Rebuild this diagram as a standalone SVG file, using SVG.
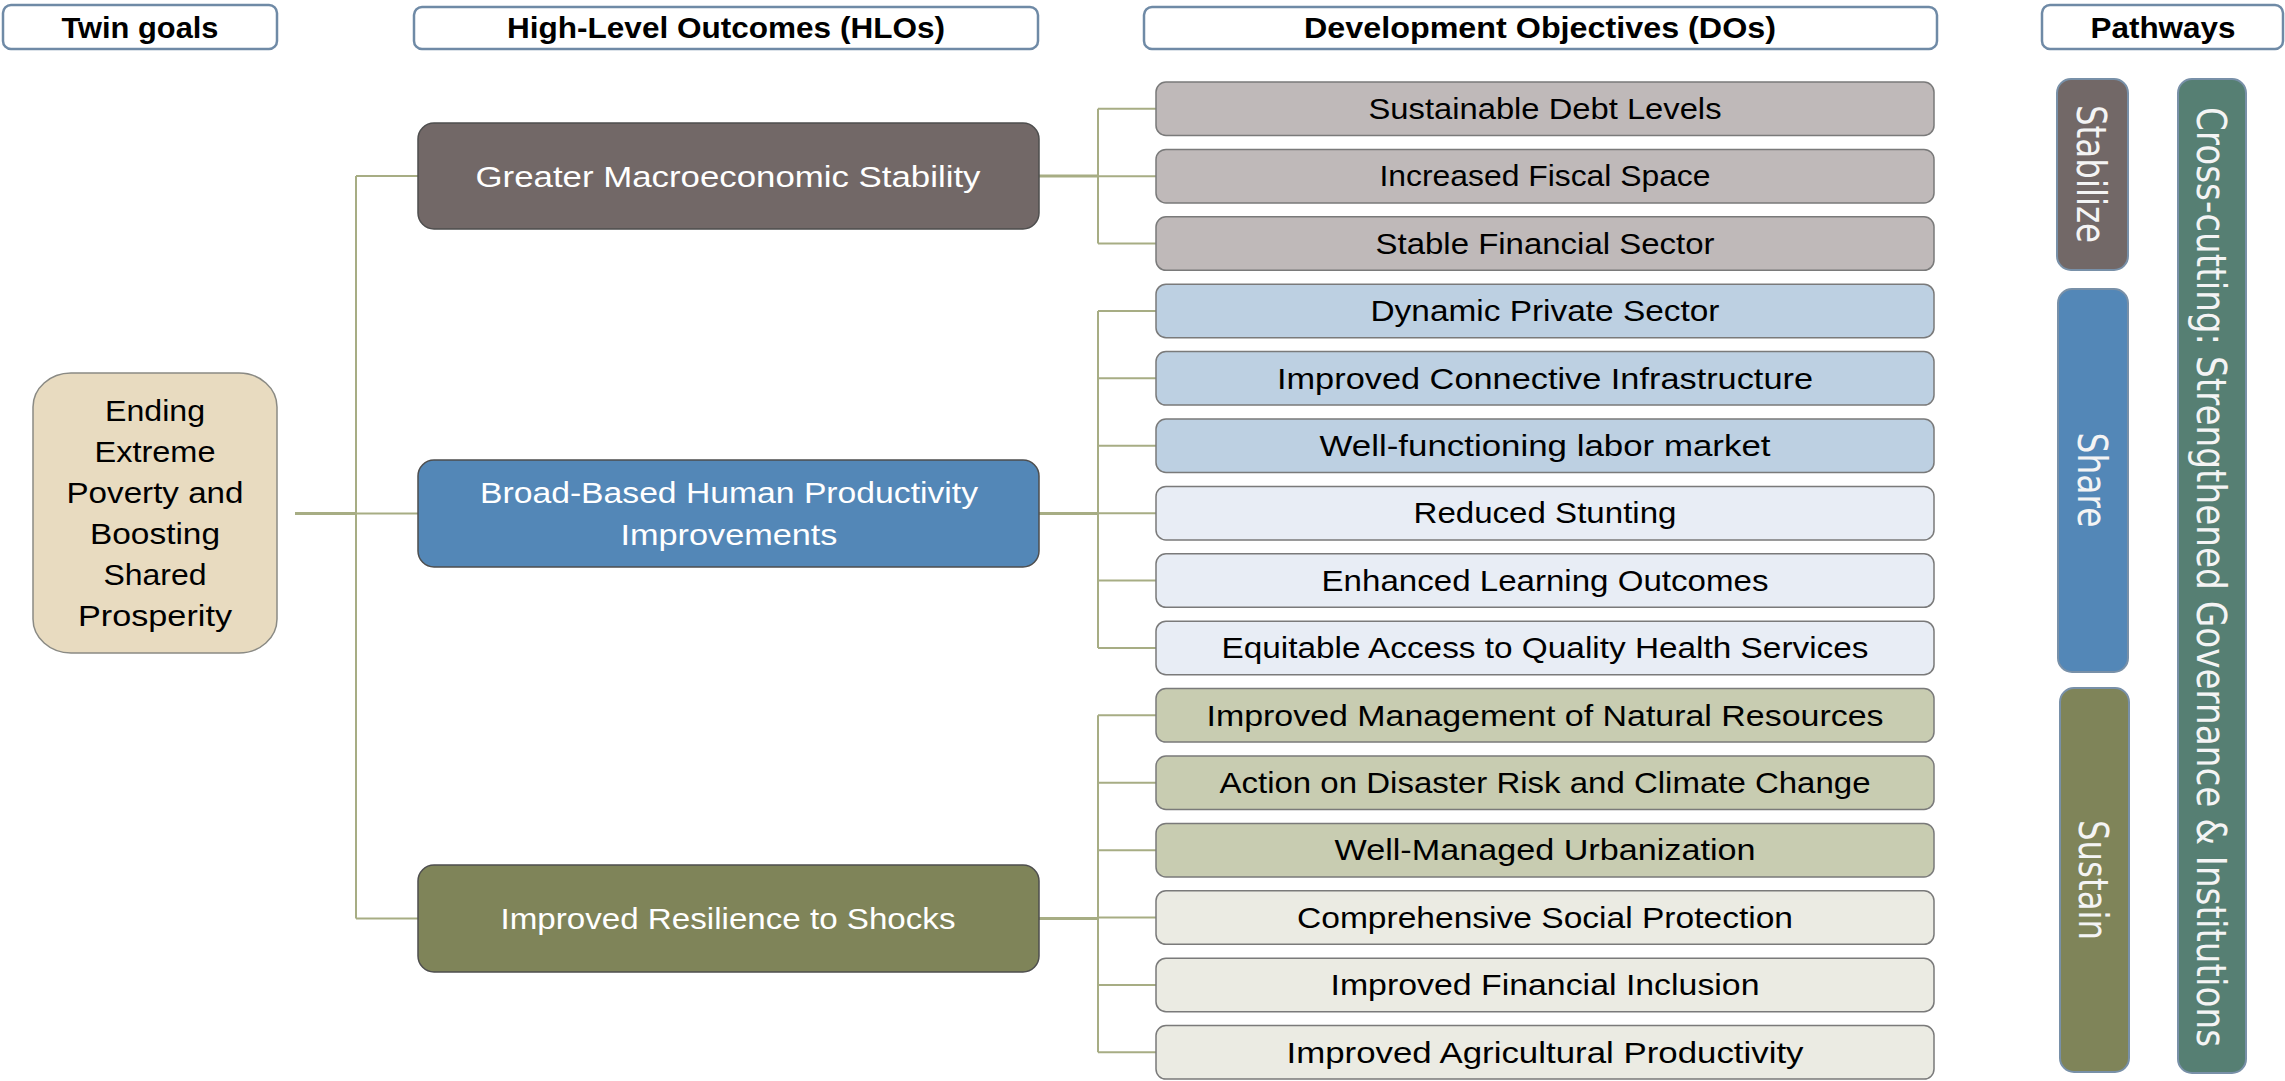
<svg xmlns="http://www.w3.org/2000/svg" width="2285" height="1081" viewBox="0 0 2285 1081">
  <style>
    .hdr rect { fill: #ffffff; stroke: #6f8aa6; stroke-width: 2.5; }
    .hdr text { font-family: "Liberation Sans", Arial, sans-serif; font-weight: bold; font-size: 29px; fill: #000; text-anchor: middle; }
    .goal rect { fill: #e8dbc0; stroke: #8a8a84; stroke-width: 1.5; }
    .goal text { font-family: "Liberation Sans", Arial, sans-serif; font-size: 29.5px; fill: #000; text-anchor: middle; }
    .hlo rect { stroke: #4e4e4e; stroke-width: 1.5; }
    .hlo text { font-family: "Liberation Sans", Arial, sans-serif; font-size: 30px; fill: #ffffff; text-anchor: middle; }
    .do rect { stroke: #7a7a7a; stroke-width: 1.5; }
    .do text { font-family: "Liberation Sans", Arial, sans-serif; font-size: 30px; fill: #000; text-anchor: middle; }
    .path rect { stroke: #7890a8; stroke-width: 2; }
    .path text { font-family: "DejaVu Sans", Verdana, sans-serif; font-size: 40px; fill: #f4f4f4; text-anchor: middle; }
    .stab { fill: #726867; }
    .share { fill: #5387b7; }
    .sust { fill: #7f8459; }
    .cross { fill: #567f73; }
    .do-stab { fill: #bfb9b9; }
    .do-share1 { fill: #bdd0e2; }
    .do-share2 { fill: #e8edf5; }
    .do-sust1 { fill: #c8ccb1; }
    .do-sust2 { fill: #ebebe3; }
    #connectors line { stroke: #a7ad84; stroke-width: 2; fill: none; }
    #connectors line.trunk { stroke-width: 3; }
  </style>

  <!-- column headers -->
  <g id="hdr-twin" class="hdr">
    <rect x="3" y="5" width="274" height="44" rx="8"/>
    <text x="140" y="38" textLength="157" lengthAdjust="spacingAndGlyphs">Twin goals</text>
  </g>
  <g id="hdr-hlo" class="hdr">
    <rect x="414" y="7" width="624" height="42" rx="8"/>
    <text x="726" y="38" textLength="438" lengthAdjust="spacingAndGlyphs">High-Level Outcomes (HLOs)</text>
  </g>
  <g id="hdr-do" class="hdr">
    <rect x="1144" y="7" width="793" height="42" rx="8"/>
    <text x="1540" y="38" textLength="472" lengthAdjust="spacingAndGlyphs">Development Objectives (DOs)</text>
  </g>
  <g id="hdr-path" class="hdr">
    <rect x="2042" y="5" width="241" height="44" rx="8"/>
    <text x="2163" y="38" textLength="145" lengthAdjust="spacingAndGlyphs">Pathways</text>
  </g>

  <!-- connectors -->
  <g id="connectors">
    <!-- twin goals to HLOs -->
    <line class="trunk" x1="295" y1="513.5" x2="356" y2="513.5"/>
    <line x1="356" y1="176" x2="356" y2="918.5"/>
    <line x1="356" y1="176" x2="418" y2="176"/>
    <line x1="356" y1="513.5" x2="418" y2="513.5"/>
    <line x1="356" y1="918.5" x2="418" y2="918.5"/>
    <!-- stabilize HLO to DOs -->
    <line class="trunk" x1="1039" y1="176" x2="1098" y2="176"/>
    <line x1="1098" y1="108.75" x2="1098" y2="243.55"/>
    <line x1="1098" y1="108.75" x2="1156" y2="108.75"/>
    <line x1="1098" y1="176.15" x2="1156" y2="176.15"/>
    <line x1="1098" y1="243.55" x2="1156" y2="243.55"/>
    <!-- share HLO to DOs -->
    <line class="trunk" x1="1039" y1="513.5" x2="1098" y2="513.5"/>
    <line x1="1098" y1="310.95" x2="1098" y2="647.95"/>
    <line x1="1098" y1="310.95" x2="1156" y2="310.95"/>
    <line x1="1098" y1="378.35" x2="1156" y2="378.35"/>
    <line x1="1098" y1="445.75" x2="1156" y2="445.75"/>
    <line x1="1098" y1="513.15" x2="1156" y2="513.15"/>
    <line x1="1098" y1="580.55" x2="1156" y2="580.55"/>
    <line x1="1098" y1="647.95" x2="1156" y2="647.95"/>
    <!-- sustain HLO to DOs -->
    <line class="trunk" x1="1039" y1="918.5" x2="1098" y2="918.5"/>
    <line x1="1098" y1="715.35" x2="1098" y2="1052.35"/>
    <line x1="1098" y1="715.35" x2="1156" y2="715.35"/>
    <line x1="1098" y1="782.75" x2="1156" y2="782.75"/>
    <line x1="1098" y1="850.15" x2="1156" y2="850.15"/>
    <line x1="1098" y1="917.55" x2="1156" y2="917.55"/>
    <line x1="1098" y1="984.95" x2="1156" y2="984.95"/>
    <line x1="1098" y1="1052.35" x2="1156" y2="1052.35"/>
  </g>

  <!-- twin goals -->
  <g id="twin-goals" class="goal">
    <rect x="33" y="373" width="244" height="280" rx="38" ry="34"/>
    <text x="155" y="421" textLength="100" lengthAdjust="spacingAndGlyphs">Ending</text>
    <text x="155" y="462" textLength="121" lengthAdjust="spacingAndGlyphs">Extreme</text>
    <text x="155" y="503" textLength="177" lengthAdjust="spacingAndGlyphs">Poverty and</text>
    <text x="155" y="544" textLength="130" lengthAdjust="spacingAndGlyphs">Boosting</text>
    <text x="155" y="585" textLength="103" lengthAdjust="spacingAndGlyphs">Shared</text>
    <text x="155" y="626" textLength="154" lengthAdjust="spacingAndGlyphs">Prosperity</text>
  </g>

  <!-- high-level outcomes -->
  <g id="hlo-stability" class="hlo">
    <rect class="stab" x="418" y="123" width="621" height="106" rx="16"/>
    <text x="728" y="186.5" textLength="505" lengthAdjust="spacingAndGlyphs">Greater Macroeconomic Stability</text>
  </g>
  <g id="hlo-productivity" class="hlo">
    <rect class="share" x="418" y="460" width="621" height="107" rx="16"/>
    <text x="729" y="503" textLength="498" lengthAdjust="spacingAndGlyphs">Broad-Based Human Productivity</text>
    <text x="729" y="545" textLength="217" lengthAdjust="spacingAndGlyphs">Improvements</text>
  </g>
  <g id="hlo-resilience" class="hlo">
    <rect class="sust" x="418" y="865" width="621" height="107" rx="16"/>
    <text x="728" y="929" textLength="455" lengthAdjust="spacingAndGlyphs">Improved Resilience to Shocks</text>
  </g>

  <!-- development objectives -->
  <g id="do-debt" class="do">
    <rect class="do-stab" x="1156" y="82" width="778" height="53.5" rx="10"/>
    <text x="1545" y="119" textLength="353" lengthAdjust="spacingAndGlyphs">Sustainable Debt Levels</text>
  </g>
  <g id="do-fiscal" class="do">
    <rect class="do-stab" x="1156" y="149.4" width="778" height="53.5" rx="10"/>
    <text x="1545" y="186.4" textLength="331" lengthAdjust="spacingAndGlyphs">Increased Fiscal Space</text>
  </g>
  <g id="do-financial" class="do">
    <rect class="do-stab" x="1156" y="216.8" width="778" height="53.5" rx="10"/>
    <text x="1545" y="253.8" textLength="339" lengthAdjust="spacingAndGlyphs">Stable Financial Sector</text>
  </g>
  <g id="do-private" class="do">
    <rect class="do-share1" x="1156" y="284.2" width="778" height="53.5" rx="10"/>
    <text x="1545" y="321.2" textLength="349" lengthAdjust="spacingAndGlyphs">Dynamic Private Sector</text>
  </g>
  <g id="do-infrastructure" class="do">
    <rect class="do-share1" x="1156" y="351.6" width="778" height="53.5" rx="10"/>
    <text x="1545" y="388.6" textLength="536" lengthAdjust="spacingAndGlyphs">Improved Connective Infrastructure</text>
  </g>
  <g id="do-labor" class="do">
    <rect class="do-share1" x="1156" y="419" width="778" height="53.5" rx="10"/>
    <text x="1545" y="456" textLength="451" lengthAdjust="spacingAndGlyphs">Well-functioning labor market</text>
  </g>
  <g id="do-stunting" class="do">
    <rect class="do-share2" x="1156" y="486.4" width="778" height="53.5" rx="10"/>
    <text x="1545" y="523.4" textLength="263" lengthAdjust="spacingAndGlyphs">Reduced Stunting</text>
  </g>
  <g id="do-learning" class="do">
    <rect class="do-share2" x="1156" y="553.8" width="778" height="53.5" rx="10"/>
    <text x="1545" y="590.8" textLength="447" lengthAdjust="spacingAndGlyphs">Enhanced Learning Outcomes</text>
  </g>
  <g id="do-health" class="do">
    <rect class="do-share2" x="1156" y="621.2" width="778" height="53.5" rx="10"/>
    <text x="1545" y="658.2" textLength="647" lengthAdjust="spacingAndGlyphs">Equitable Access to Quality Health Services</text>
  </g>
  <g id="do-natural" class="do">
    <rect class="do-sust1" x="1156" y="688.6" width="778" height="53.5" rx="10"/>
    <text x="1545" y="725.6" textLength="677" lengthAdjust="spacingAndGlyphs">Improved Management of Natural Resources</text>
  </g>
  <g id="do-climate" class="do">
    <rect class="do-sust1" x="1156" y="756" width="778" height="53.5" rx="10"/>
    <text x="1545" y="793" textLength="651" lengthAdjust="spacingAndGlyphs">Action on Disaster Risk and Climate Change</text>
  </g>
  <g id="do-urban" class="do">
    <rect class="do-sust1" x="1156" y="823.4" width="778" height="53.5" rx="10"/>
    <text x="1545" y="860.4" textLength="421" lengthAdjust="spacingAndGlyphs">Well-Managed Urbanization</text>
  </g>
  <g id="do-social" class="do">
    <rect class="do-sust2" x="1156" y="890.8" width="778" height="53.5" rx="10"/>
    <text x="1545" y="927.8" textLength="496" lengthAdjust="spacingAndGlyphs">Comprehensive Social Protection</text>
  </g>
  <g id="do-inclusion" class="do">
    <rect class="do-sust2" x="1156" y="958.2" width="778" height="53.5" rx="10"/>
    <text x="1545" y="995.2" textLength="429" lengthAdjust="spacingAndGlyphs">Improved Financial Inclusion</text>
  </g>
  <g id="do-agriculture" class="do">
    <rect class="do-sust2" x="1156" y="1025.6" width="778" height="53.5" rx="10"/>
    <text x="1545" y="1062.6" textLength="517" lengthAdjust="spacingAndGlyphs">Improved Agricultural Productivity</text>
  </g>

  <!-- pathways (vertical bars, text reads top to bottom) -->
  <g id="path-stabilize" class="path">
    <rect class="stab" x="2057" y="79" width="71" height="191" rx="14"/>
    <text transform="translate(2077,174) rotate(90)" textLength="138" lengthAdjust="spacingAndGlyphs">Stabilize</text>
  </g>
  <g id="path-share" class="path">
    <rect class="share" x="2058" y="289" width="70" height="383" rx="14"/>
    <text transform="translate(2078,480) rotate(90)" textLength="95" lengthAdjust="spacingAndGlyphs">Share</text>
  </g>
  <g id="path-sustain" class="path">
    <rect class="sust" x="2060" y="688" width="69" height="384" rx="14"/>
    <text transform="translate(2079,880) rotate(90)" textLength="120" lengthAdjust="spacingAndGlyphs">Sustain</text>
  </g>
  <g id="path-crosscutting" class="path">
    <rect class="cross" x="2178" y="79" width="68" height="994" rx="14"/>
    <text transform="translate(2197,577) rotate(90)" textLength="940" lengthAdjust="spacingAndGlyphs">Cross-cutting: Strengthened Governance &amp; Institutions</text>
  </g>
</svg>
